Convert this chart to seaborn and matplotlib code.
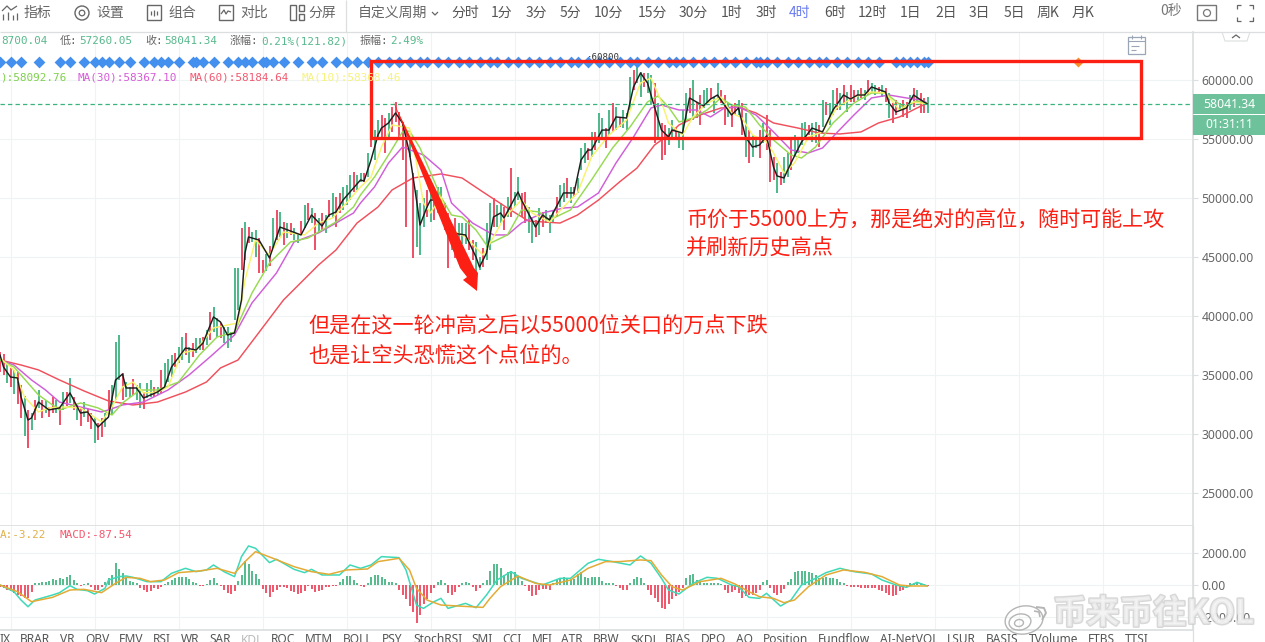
import matplotlib
matplotlib.use("Agg")
import matplotlib.pyplot as plt
import matplotlib.patheffects as pe
from matplotlib.patches import Rectangle, Polygon, Ellipse, Circle
from matplotlib.ticker import FormatStrFormatter
import seaborn as sns

# one bar = 4 hours, bar number along x
highs = [
    37000, 36800, 36200, 35600, 35500, 35300, 34200, 33300, 32100, 31830, 32900, 33770,
    32900, 32900, 32330, 33180, 32900, 32330, 33600, 33600, 34790, 33180, 32500, 32330,
    32750, 32150, 31820, 31480, 30970, 31400, 31820, 33770, 34190, 37850, 38430, 35200,
    34440, 33990, 34700, 34190, 34360, 33600, 34360, 34610, 34020, 34020, 35470, 36060,
    36400, 36740, 36910, 37420, 38260, 38600, 37420, 37750, 38180, 38180, 38260, 38850,
    40390, 40810, 39880, 39450, 39110, 39110, 38680, 44100, 44100, 47500, 48000, 47580,
    47160, 47330, 46650, 44790, 45300, 46000, 48350, 49030, 48860, 48000, 47930, 47930,
    47500, 47000, 48100, 49450, 49620, 49190, 48770, 48350, 48770, 48600, 49870, 50470,
    50130, 50470, 50980, 51150, 52000, 52240, 51990, 52160, 52160, 53860, 56230, 55800,
    56650, 57080, 56820, 57250, 57750, 58180, 57330, 56480, 55800, 55210, 52160, 50720,
    49620, 50040, 50720, 50720, 49870, 50980, 50980, 49620, 48770, 47330, 48350, 47920,
    47920, 47920, 48180, 46480, 46310, 45040, 45800, 47920, 49620, 50040, 49450, 49620,
    49280, 50130, 52590, 50550, 51820, 50470, 50550, 49280, 48430, 48180, 49190, 48860,
    49030, 48600, 49030, 50130, 51150, 51320, 51740, 50980, 50980, 51740, 54280, 54700,
    54280, 55640, 55640, 57250, 56820, 55970, 57500, 58090, 57750, 56900, 57500, 57250,
    60300, 60890, 61570, 60720, 60640, 60640, 60470, 59790, 58090, 56400, 56230, 55970,
    56650, 55970, 55640, 57500, 58940, 59360, 60000, 58180, 58770, 59200, 59360, 59360,
    58600, 59790, 59200, 58770, 58090, 57920, 58090, 58340, 58090, 57250, 55800, 55380,
    55210, 55800, 56400, 57080, 55800, 53520, 53010, 52240, 53520, 53860, 54950, 55380,
    55130, 56400, 56480, 56230, 56400, 56480, 56230, 58350, 58180, 58090, 59200, 59360,
    58940, 59620, 59030, 59620, 59200, 59200, 59360, 59200, 60040, 59790, 59620, 59450,
    59620, 59360, 58940, 58090, 58350, 58090, 58350, 58180, 58770, 59360, 59200, 58940,
    58520, 58600,
]
lows = [
    35300, 35000, 34400, 34000, 33400, 32600, 31400, 29900, 28850, 30400, 31200, 32250,
    31400, 31800, 31480, 31820, 31800, 30800, 32080, 32400, 32650, 32080, 31230, 30720,
    31480, 31050, 30460, 29270, 29500, 29790, 30630, 31820, 31650, 32900, 34610, 32900,
    33180, 33180, 33350, 32900, 32250, 32170, 33090, 33180, 33180, 33350, 33520, 33940,
    34440, 34870, 35720, 36060, 36310, 36740, 36060, 36570, 36910, 37160, 37160, 37580,
    38000, 38680, 38260, 38180, 37750, 37330, 37840, 39700, 40570, 43940, 44790, 46230,
    46310, 45000, 43680, 43680, 43830, 44300, 45800, 46480, 46740, 46060, 46650, 46910,
    46480, 46200, 46900, 47500, 48180, 47930, 45640, 47080, 47330, 47080, 48430, 48350,
    47580, 48770, 49030, 49450, 49870, 50550, 50720, 51400, 51400, 51820, 54360, 53260,
    54950, 55210, 53860, 55210, 55640, 56480, 54950, 53260, 47580, 53520, 44960, 45890,
    45210, 47580, 48430, 48010, 48180, 48770, 49280, 47330, 44100, 45640, 44960, 45800,
    46150, 46150, 45640, 44790, 43680, 43940, 44190, 44790, 45640, 47580, 47580, 47920,
    47330, 48430, 48430, 49280, 49870, 48430, 47920, 47080, 46230, 46740, 46910, 47580,
    47920, 47080, 47920, 48430, 49280, 49700, 50040, 49620, 50130, 50470, 52430, 53010,
    53260, 53520, 54110, 54700, 55130, 54280, 55380, 55640, 55800, 56060, 55970, 55800,
    57500, 59200, 59790, 58600, 59450, 58940, 57920, 54700, 54950, 53260, 53690, 54530,
    54950, 54950, 54280, 54110, 56480, 57250, 56650, 56820, 56230, 57670, 58090, 58430,
    57250, 58520, 58090, 56230, 56900, 56060, 57080, 57080, 55380, 53520, 53010, 53520,
    54280, 53430, 54700, 54110, 51400, 51570, 50470, 51150, 51320, 51820, 52430, 53520,
    53860, 54530, 54950, 55380, 54790, 54700, 54360, 56060, 57080, 56230, 57080, 57500,
    57500, 57920, 57330, 58180, 58180, 58350, 58520, 58350, 58770, 58940, 58770, 58940,
    58600, 58180, 56820, 56400, 57080, 57500, 56900, 56820, 57500, 57750, 58090, 57250,
    57250, 57250,
]
bar_dirs = (
    "rrgrgrrgrgrgrgrrgrgrgrgr" "grrgrrgrgggrggrggrggrgrg" "ggrggrgrggrgrggrgggggrgr"
    "ggrrgrgrgrgrggrgrgrgrgrg" "rrgggrggrgrggrrgrrrrrgrg" "ggrgrggrrgrgggrrggrggrgg"
    "rgrggrrggrgrgggrggrgrggg" "rgrggrgrgrgggrggrggrgrrg" "grgggrgrrggrggrrgrrgrgrg"
    "grgrrrgrggrggggrggrgrggr" "grgrrgrgrggrgrgrrgrrgrgr" "rg"
)

ma5_bars = [
    0, 1, 3, 5, 6, 8, 9, 11, 14, 17, 20, 23, 25, 28, 31, 33, 35, 36, 39, 41, 45, 47, 49, 53, 56, 58,
    61, 63, 65, 67, 69, 70, 71, 74, 77, 80, 86, 89, 92, 94, 96, 98, 103, 104, 106, 108, 109, 111,
    113, 115, 117, 119, 120, 122, 123, 125, 127, 129, 133, 136, 137, 139, 141, 143, 144, 148, 149,
    153, 155, 157, 161, 164, 166, 168, 169, 172, 174, 176, 179, 181, 183, 185, 187, 189, 191, 192,
    195, 197, 201, 203, 205, 207, 209, 211, 213, 215, 217, 219, 221, 222, 224, 226, 229, 232, 235,
    238, 241, 243, 245, 247, 249, 253, 254, 256, 259, 261, 264, 265,
]
ma5_vals = [
    36740, 35720, 34870, 34790, 33180, 31230, 31400, 32750, 32080, 32250, 33520, 31820, 31910, 30630,
    31480, 34610, 35120, 33940, 33940, 33090, 33600, 34020, 35720, 37330, 37160, 37750, 39960, 39530,
    38430, 38600, 41400, 45380, 46740, 46480, 44960, 47580, 46910, 48600, 47670, 48600, 48860, 49870,
    51570, 51480, 53260, 55380, 55970, 56400, 57250, 56400, 53860, 49870, 47750, 49280, 49870, 49870,
    48600, 47080, 46910, 45040, 44190, 45380, 48430, 48770, 48350, 50550, 49870, 47580, 48600, 48180,
    50470, 50470, 53260, 54110, 54110, 55800, 55800, 56910, 56820, 59450, 60640, 59790, 57750, 55800,
    55210, 55800, 55550, 58520, 57840, 58430, 58770, 57920, 57080, 57670, 55210, 54360, 54530, 55300,
    52670, 51910, 51740, 53010, 54790, 55970, 55640, 57500, 58770, 58430, 58770, 58770, 59450, 59030,
    58090, 57330, 57670, 58770, 58180, 58010,
]
ma10_bars = [
    0, 4, 7, 11, 14, 18, 23, 29, 32, 35, 38, 41, 45, 48, 52, 56, 61, 65, 68, 70, 73, 77, 81, 87, 91,
    95, 99, 103, 106, 109, 112, 117, 119, 121, 123, 126, 129, 133, 138, 141, 144, 149, 152, 157, 161,
    165, 169, 174, 179, 183, 186, 189, 191, 195, 198, 202, 206, 209, 212, 215, 219, 221, 224, 227,
    231, 235, 239, 244, 249, 253, 257, 261, 265,
]
ma10_vals = [
    36480, 35470, 33180, 31910, 32250, 32330, 32250, 31060, 32330, 34020, 34440, 33520, 33600, 34020,
    36910, 37160, 39030, 39280, 39450, 43090, 46480, 45210, 47160, 46910, 47920, 48350, 49620, 50980,
    51820, 54360, 56230, 55970, 53010, 49620, 48770, 50130, 47330, 46740, 45210, 46740, 48350, 49870,
    48770, 48010, 49280, 50470, 53520, 55380, 56650, 59790, 60210, 58180, 56400, 55380, 56910, 58090,
    58600, 57250, 56820, 55380, 54790, 53860, 52160, 53010, 55210, 55640, 57670, 58600, 59030, 58940,
    57500, 58180, 58010,
]
ma20_bars = [
    0, 4, 8, 11, 17, 23, 28, 32, 35, 40, 45, 51, 57, 62, 67, 72, 77, 83, 88, 96, 101, 103, 107, 111,
    115, 117, 120, 126, 129, 132, 136, 139, 145, 149, 154, 157, 163, 169, 175, 180, 185, 188, 191,
    194, 198, 202, 206, 209, 213, 217, 221, 226, 229, 233, 238, 244, 249, 253, 258, 262, 265,
]
ma20_vals = [
    36310, 35720, 34360, 33350, 32080, 32670, 32250, 31650, 32670, 33770, 33770, 34440, 36740, 38260,
    38680, 41990, 44530, 46310, 46650, 48010, 49280, 50300, 51820, 53690, 55640, 55720, 54280, 50130,
    48600, 48430, 47330, 46060, 46910, 49030, 48860, 48180, 49030, 51570, 54280, 56060, 58180, 58690,
    57750, 56480, 56820, 57500, 58520, 57920, 57750, 56230, 54960, 53690, 53430, 54360, 56400, 58090,
    58940, 58940, 57750, 58260, 58090,
]
ma30_bars = [
    0, 4, 9, 13, 17, 23, 29, 31, 35, 41, 48, 54, 60, 67, 72, 79, 84, 91, 96, 101, 103, 107, 111, 115,
    121, 126, 129, 135, 141, 145, 149, 155, 161, 165, 171, 176, 181, 186, 189, 194, 199, 203, 207,
    211, 216, 221, 226, 231, 235, 239, 244, 249, 254, 259, 263, 265,
]
ma30_vals = [
    36310, 35890, 34620, 33770, 32750, 32330, 31910, 32080, 32500, 32750, 33770, 35040, 36570, 38430,
    41150, 43690, 46310, 47080, 47920, 48770, 49620, 50980, 53010, 54360, 53690, 52410, 49620, 47920,
    46910, 46910, 47920, 48770, 49190, 49280, 50470, 53010, 55210, 57670, 57920, 57500, 57500, 56910,
    57670, 57750, 57080, 55640, 54110, 53860, 54280, 55550, 57080, 58520, 58770, 58520, 58350, 58090,
]
ma60_bars = [
    0, 6, 11, 17, 24, 31, 38, 45, 53, 59, 63, 68, 73, 81, 91, 96, 102, 108, 112, 118, 126, 132, 138,
    145, 151, 160, 165, 171, 177, 182, 187, 191, 194, 200, 206, 211, 216, 221, 228, 234, 240, 246,
    251, 257, 262, 265,
]
ma60_vals = [
    36310, 35890, 35470, 34620, 33690, 32840, 32500, 32750, 33600, 34450, 35640, 36310, 38260, 41400,
    44360, 45640, 47920, 49280, 50720, 51740, 52080, 51740, 50550, 49190, 48090, 47920, 48600, 49870,
    51400, 52580, 54530, 55380, 56230, 57080, 57670, 57750, 57250, 56400, 55970, 55550, 55470, 55640,
    56400, 56910, 57670, 58090,
]

signal_bars = [
    0, 3, 6, 11, 17, 20, 24, 27, 29, 31, 34, 37, 41, 44, 46, 48, 51, 55, 56, 58, 61, 65, 68, 70, 72,
    75, 76, 78, 81, 85, 89, 92, 96, 99, 102, 105, 108, 111, 114, 117, 120, 122, 125, 128, 131, 134,
    137, 140, 142, 145, 148, 151, 154, 157, 160, 163, 165, 168, 171, 174, 177, 180, 182, 185, 188,
    191, 193, 195, 198, 201, 204, 207, 210, 213, 216, 217, 219, 222, 225, 228, 231, 234, 236, 239,
    242, 245, 248, 251, 256, 258, 260, 262, 264, 265,
]
signal_level = 61570
orange_bar = 308
last_price = 58041.34

macd_hist = [
    -100, -200, -300, -400, -500, -630, -700, -800, -840, -420, 120, 150, 180, 210, 280, 360, 300, 420,
    400, 520, 630, 300, 120, -40, 60, 100, -150, -300, -320, -150, 200, 420, 600, 1365, 1000, 760, 420,
    250, 200, 100, -200, -300, -420, -380, -210, -250, -150, 80, 200, 300, 420, 500, 500, 520, 350, 200,
    120, -40, -80, 60, 300, 420, 150, -60, -300, -500, -570, -400, 250, 650, 1500, 1300, 900, 700, 400,
    -250, -500, -780, -420, -300, -150, -100, -200, -350, -450, -540, -500, -400, -50, -250, -420, -400,
    -300, -150, -100, -60, -80, 200, 350, 540, 570, 320, 150, -60, -120, 100, 520, 640, 630, 500, 400,
    200, 180, 120, -300, -630, -900, -1300, -1700, -2400, -1900, -1200, -900, -500, -200, 200, 340, 100,
    -500, -630, -420, -150, 100, 200, 100, -150, -350, -200, 100, 300, 900, 1330, 1300, 1100, 600, 800,
    900, 800, 550, 250, -80, -400, -700, -640, -300, -250, -220, -300, 100, 400, 400, 520, 420, 300, 400,
    700, 800, 500, 420, 500, 520, 500, 250, 120, 100, 100, -60, -200, -320, -300, 100, 400, 520, 420,
    100, -300, -600, -800, -1100, -1450, -1500, -1200, -900, -700, -450, -200, 420, 600, 700, 320, 200,
    120, 100, 100, 100, 100, 80, -300, -500, -420, -300, -500, -840, -700, -650, -600, -500, -300, 200,
    300, -200, -500, -650, -500, -250, 200, 400, 800, 850, 880, 880, 800, 750, 600, 450, 450, 500, 450,
    450, 350, 200, 100, -60, -120, -140, -150, -160, -170, -170, -180, -200, -300, -350, -500, -650,
    -700, -600, -400, -300, -100, 100, 150, 170, 120, 60, -60,
]
dif_bars = [
    0, 4, 6, 8, 10, 15, 17, 20, 22, 25, 27, 30, 31, 34, 36, 38, 42, 46, 49, 53, 56, 59, 61, 64, 67, 69,
    71, 73, 77, 79, 84, 87, 89, 92, 97, 100, 103, 106, 109, 114, 116, 119, 121, 124, 126, 128, 133, 136,
    139, 142, 146, 149, 155, 160, 163, 168, 171, 175, 180, 183, 186, 189, 191, 194, 198, 202, 205, 209,
    211, 214, 217, 219, 223, 226, 229, 233, 236, 240, 244, 249, 252, 256, 259, 262, 265,
]
dif_vals = [
    0, -420, -945, -1365, -945, -630, -483, -42, -273, -357, -567, -210, 315, 525, 567, 483, 210, 210,
    735, 1050, 840, 945, 1260, 840, 525, 1785, 2457, 2310, 1407, 1617, 987, 777, 987, 630, 630, 1260,
    1050, 1260, 1785, 1722, 945, -1260, -1470, -1050, -840, -1470, -1155, -1428, -630, 315, 840, 420, 0,
    420, 420, 1365, 1617, 1470, 1260, 1827, 1365, 420, -315, -567, 105, 483, 420, 0, -105, -777, -840,
    -525, -1323, -945, 0, 420, 777, 1050, 840, 693, 315, 0, -147, 168, -63,
]
dea_bars = [
    0, 5, 9, 15, 20, 24, 29, 33, 36, 40, 43, 47, 51, 57, 62, 67, 70, 73, 78, 84, 89, 94, 99, 105, 108,
    114, 117, 119, 122, 126, 131, 138, 140, 143, 148, 153, 157, 163, 168, 173, 177, 183, 186, 189, 192,
    195, 200, 206, 210, 214, 217, 221, 224, 227, 231, 236, 241, 247, 252, 257, 260, 265,
]
dea_vals = [
    0, -420, -1050, -777, -315, -273, -483, 105, 483, 420, 210, 315, 777, 882, 1050, 735, 1470, 2100,
    1680, 1155, 840, 672, 945, 1008, 1470, 1680, 945, -210, -945, -1260, -1323, -1407, -840, -105, 567,
    105, 0, 315, 1050, 1470, 1470, 1575, 1533, 630, -105, -315, 210, 420, 63, -420, -735, -840, -1113,
    -945, -105, 630, 945, 798, 525, 0, -63, -63,
]

price_ticks = [25000, 30000, 35000, 40000, 45000, 50000, 55000, 60000]
macd_ticks = [-2000, 0, 2000]
grid_bars = [3 + 24 * k for k in range(14)]

toolbar_left = [("指标", 24), ("设置", 96), ("组合", 168), ("对比", 240), ("分屏", 308), ("自定义周期", 358)]
periods = ["分时", "1分", "3分", "5分", "10分", "15分", "30分", "1时", "3时", "4时", "6时", "12时",
           "1日", "2日", "3日", "5日", "周K", "月K"]
period_x = [451, 491, 526, 560, 594, 638, 679, 721, 756, 789, 824, 858, 900, 935, 969, 1004, 1037, 1072]
tabs = ["IX", "BRAR", "VR", "OBV", "EMV", "RSI", "WR", "SAR", "KDJ", "ROC", "MTM", "BOLL", "PSY",
        "StochRSI", "SMI", "CCI", "MFI", "ATR", "BBW", "SKDJ", "BIAS", "DPO", "AO", "Position",
        "Fundflow", "AI-NetVOL", "LSUR", "BASIS", "TVolume", "FTBS", "TTSI"]
tab_x = [0, 20, 60, 85, 119, 153, 181, 209, 241, 271, 305, 343, 382, 413, 471, 502, 532, 561, 593,
         630, 665, 701, 736, 763, 818, 880, 947, 986, 1029, 1088, 1125]

W, H = 1265, 642
GREEN = "#3fb27f"
RED = "#ee4159"
GRID = "#eef3f3"
LINE = "#dcdfe0"
GREY = "#666666"
ANNOT = "#fb1f14"
MONO = "DejaVu Sans Mono"

sns.set_theme(style="white")
plt.rcParams["font.family"] = ["Noto Sans CJK SC", "DejaVu Sans"]

fig = plt.figure(figsize=(W / 100, H / 100), dpi=100)
ax = fig.add_axes([0, 1 - 526 / H, 1193 / W, (526 - 32) / H])
ax2 = fig.add_axes([0, 1 - 630 / H, 1193 / W, (630 - 526) / H])
ov = fig.add_axes([0, 0, 1, 1], zorder=10)
ov.set_xlim(0, W)
ov.set_ylim(H, 0)
ov.axis("off")
ov.patch.set_alpha(0)

for a in (ax, ax2):
    a.set_xlim(0, 1193 / 3.5)
    a.set_xticks(grid_bars)
    a.tick_params(axis="x", length=0, labelbottom=False)
    a.yaxis.tick_right()
    a.tick_params(axis="y", length=3.6, width=0.8, color=LINE, labelcolor=GREY, labelsize=8.8, pad=2.6, right=True)
    a.yaxis.set_major_formatter(FormatStrFormatter("%.2f"))
    a.grid(True, color=GRID, linewidth=0.8)
    a.set_axisbelow(True)
    for side in ("left", "top"):
        a.spines[side].set_visible(False)
    a.spines["right"].set_color(LINE)
    a.spines["bottom"].set_color(LINE)

ax.set_ylim(22244, 64110)
ax.set_yticks(price_ticks)
ax2.set_ylim(-2830, 3711)
ax2.set_yticks(macd_ticks)
for a in (ax, ax2):
    for lab in a.get_yticklabels():
        lab.set_fontfamily("Noto Sans")

# candles
xs = list(range(len(highs)))
cols = [GREEN if d == "g" else RED for d in bar_dirs]
ax.vlines(xs, lows, highs, colors=cols, linewidth=1.3, zorder=2)

# moving averages
ma_series = [
    (ma60_bars, ma60_vals, "#f0505c"),
    (ma30_bars, ma30_vals, "#d05ed8"),
    (ma20_bars, ma20_vals, "#97da52"),
    (ma10_bars, ma10_vals, "#f8f36c"),
    (ma5_bars, ma5_vals, "#1e1e1e"),
]
for bars, vals, col in ma_series:
    sns.lineplot(x=bars, y=vals, color=col, linewidth=1.05, estimator=None, sort=False, ax=ax, zorder=3)

ax.axhline(last_price, color="#38b57c", linewidth=0.9, dashes=(3.5, 2.5), zorder=3)
sns.scatterplot(x=signal_bars, y=[signal_level] * len(signal_bars), marker="D", s=36, color="#4490ee",
                linewidth=0, ax=ax, zorder=4)
sns.scatterplot(x=[orange_bar], y=[signal_level], marker="D", s=26, color="#f5922e", linewidth=0, ax=ax, zorder=4)
ax.set_xlabel("")
ax.set_ylabel("")

# MACD panel
hist_cols = [GREEN if v >= 0 else RED for v in macd_hist]
ax2.vlines(range(len(macd_hist)), 0, macd_hist, colors=hist_cols, linewidth=1.25, zorder=2)
sns.lineplot(x=dif_bars, y=dif_vals, color="#3ed9b8", linewidth=1.1, estimator=None, sort=False, ax=ax2, zorder=3)
sns.lineplot(x=dea_bars, y=dea_vals, color="#e3ab35", linewidth=1.1, estimator=None, sort=False, ax=ax2, zorder=3)
ax2.set_xlabel("")
ax2.set_ylabel("")


def txt(x, y, s, color=GREY, size=10, ha="left", family=None, **kw):
    if family is None:
        family = ["Noto Sans CJK SC", "DejaVu Sans"]
    return ov.text(x, y, s, color=color, fontsize=size, ha=ha, va="center", family=family, **kw)


def seg(xs_, ys_, color="#666666", lw=0.9):
    ov.plot(xs_, ys_, color=color, lw=lw, solid_capstyle="butt")


# toolbar
seg([0, W], [32, 32], LINE)
seg([346, 346], [0, 32], LINE)
for label, x in toolbar_left:
    txt(x, 13, label, size=10)
seg([432, 435, 438], [12, 15, 12], GREY, 0.9)
for label, x in zip(periods, period_x):
    txt(x, 12.5, label, size=10, color="#6a7cf0" if label == "4时" else "#555555")
txt(1160, 11.5, "0秒", size=10, color="#777777")

# toolbar icons
seg([3, 3], [14, 20]); seg([8, 8], [12, 20]); seg([13, 13], [15, 20]); seg([17, 17], [13, 20])
seg([2, 7, 11, 17], [11, 6, 10, 6])
ov.add_patch(Circle((82, 13), 7, fc="none", ec=GREY, lw=1.0))
ov.add_patch(Circle((82, 13), 2.8, fc="none", ec=GREY, lw=0.9))
ov.add_patch(Rectangle((147, 5), 14, 15, fc="none", ec=GREY, lw=1.0))
seg([154, 154], [10, 16]); seg([151, 151], [11, 15]); seg([157, 157], [11, 15])
ov.add_patch(Rectangle((219, 5), 14, 15, fc="none", ec=GREY, lw=1.0))
seg([221, 224, 226, 228, 231], [14, 10, 14, 11, 12])
ov.add_patch(Rectangle((290, 5), 6, 15, fc="none", ec=GREY, lw=1.0))
ov.add_patch(Rectangle((299, 5), 5, 6, fc="none", ec=GREY, lw=1.0))
ov.add_patch(Rectangle((299, 14), 5, 6, fc="none", ec=GREY, lw=1.0))
ov.add_patch(Rectangle((1197, 5), 19, 15, fc="none", ec="#777777", lw=1.0))
ov.add_patch(Circle((1207, 13), 3.5, fc="none", ec="#777777", lw=0.9))
for cx, cy, dx, dy in [(1237, 5, 1, 1), (1253, 5, -1, 1), (1237, 21, 1, -1), (1253, 21, -1, -1)]:
    seg([cx + 4 * dx, cx, cx], [cy, cy, cy + 4 * dy], "#666666", 0.9)

# info row
info_row = [("8700.04", 1, "#58b98c"), ("低:", 60, GREY), ("57260.05", 79, "#58b98c"), ("收:", 145, GREY),
            ("58041.34", 164, "#58b98c"), ("涨幅:", 230, GREY), ("0.21%(121.82)", 261, "#58b98c"),
            ("振幅:", 360, GREY), ("2.49%", 390, "#58b98c")]
for s, x, col in info_row:
    txt(x, 41, s, color=col, size=7.9, family=[MONO, "Noto Sans CJK SC"])

ma_row = [("):58092.76", 0, "#7fd04c"), ("MA(30):58367.10", 77, "#d65bd6"),
          ("MA(60):58184.64", 189, "#f2596f"), ("MA(10):58368.46", 302, "#f6f27a")]
for s, x, col in ma_row:
    txt(x, 77, s, color=col, size=7.9, family=MONO)
txt(0, 535, "A:-3.22", color="#e0b04a", size=7.9, family=MONO)
txt(59, 535, "MACD:-87.54", color="#f2596f", size=7.9, family=MONO)
txt(587, 58, "·60800", color="#333333", size=6.6, family=MONO)

# calendar icon and collapse tab
ov.add_patch(Rectangle((1128, 37), 17, 17, fc="none", ec="#9aa6b5", lw=0.9))
seg([1128, 1145], [41, 41], "#9aa6b5", 0.8)
seg([1132, 1132], [35, 39], "#9aa6b5", 0.8); seg([1141, 1141], [35, 39], "#9aa6b5", 0.8)
seg([1131, 1139], [46, 46], "#9aa6b5", 0.8); seg([1131, 1136], [50, 50], "#9aa6b5", 0.8)
seg([1222, 1225, 1247, 1250], [32, 41, 41, 32], LINE, 0.8)
seg([1232, 1236, 1240], [38, 35, 38], "#666666", 0.9)

# price boxes
ov.add_patch(Rectangle((1193, 94), 72, 20, fc="#6ec29b", ec="none"))
ov.add_patch(Rectangle((1193, 115), 72, 20, fc="#6ec29b", ec="none"))
txt(1229, 104, "58041.34", color="white", size=8.8, ha="center", family="Noto Sans", fontweight="bold")
txt(1229, 125, "01:31:11", color="white", size=8.8, ha="center", family="Noto Sans", fontweight="bold")
seg([1193, 1193], [526, 642], LINE)

# bottom tabs
for label, x in zip(tabs, tab_x):
    txt(x, 639.5, label, size=8.6, color="#bbbbbb" if label == "KDJ" else "#555555", family="Noto Sans")

# hand drawn notes
ov.add_patch(Rectangle((371, 60.5), 770, 77.5, fc="none", ec=ANNOT, lw=2.4))
ov.add_patch(Polygon([(393, 101), (474, 268), (478, 273), (477, 291), (463, 280), (467, 277), (460, 268)],
                     fc=ANNOT, ec="none"))
txt(308, 327, "但是在这一轮冲高之后以55000位关口的万点下跌", color=ANNOT, size=15.2)
txt(308, 356, "也是让空头恐慌这个点位的。", color=ANNOT, size=15.2)
txt(686, 221, "币价于55000上方，那是绝对的高位，随时可能上攻", color=ANNOT, size=15.15)
txt(686, 249, "并刷新历史高点", color=ANNOT, size=15.2)

# weibo watermark
for cx, cy, w_, h_ in [(1024, 620, 38, 28), (1020, 622, 22, 16), (1019, 623, 9, 7)]:
    ov.add_patch(Ellipse((cx, cy), w_, h_, angle=-10, fc="none", ec="#b5b5b5", lw=1.0))
seg([1036, 1044, 1046, 1042], [607, 608, 613, 620], "#b5b5b5", 1.4)
seg([1034, 1039, 1040], [611, 612, 617], "#b5b5b5", 1.2)
wm = txt(1053, 614, "币来币往KOL", color="#f4f4f4", size=24, fontweight="bold", alpha=0.75)
wm.set_path_effects([pe.withStroke(linewidth=2.2, foreground="#cccccc", alpha=0.75)])

fig.savefig("out.png", dpi=100)
